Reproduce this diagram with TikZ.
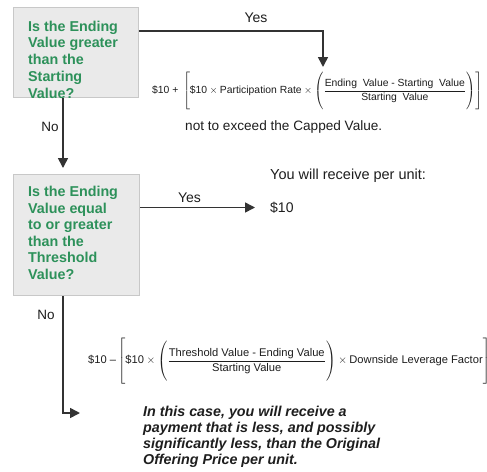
\documentclass[tikz,border=0pt]{standalone}
\usepackage{fontspec}
\setmainfont{Liberation Sans}
\usepackage{graphicx}
\usetikzlibrary{arrows.meta,calc}
\definecolor{qgreen}{RGB}{45,145,90}
\definecolor{boxfill}{RGB}{234,234,234}
\definecolor{boxline}{RGB}{200,200,200}
\definecolor{ink}{RGB}{30,30,30}
\newcommand{\mystrut}[1]{\vrule height #1 depth #1 width 0pt}
\tikzset{
  qbox/.style={draw=boxline,line width=1.2pt,fill=boxfill,inner sep=0pt,anchor=north west},
  qtext/.style={text=qgreen,font={\fontsize{14.3}{16.8}\selectfont\bfseries},align=left,inner sep=0pt,anchor=north west},
  lbl/.style={text=ink,font={\fontsize{14}{16}\selectfont},inner sep=0pt},
  fml/.style={text=ink,font={\fontsize{10}{12}\selectfont},inner sep=0pt,anchor=west},
  arr/.style={draw=black!80,line width=1.6pt,-{Triangle[width=10pt,length=10pt]}},
}
\begin{document}
\begin{tikzpicture}[x=1pt,y=-1pt]
\useasboundingbox (0,0) rectangle (487,471);
\fill[white] (0,0) rectangle (487,471);
\clip (0,0) rectangle (487,471);
% boxes
\node[qbox,minimum width=125pt,minimum height=90pt] (box1) at (13,7) {};
\node[qbox,minimum width=126pt,minimum height=121pt] (box2) at (13,174) {};
\node[qtext] (q1) at (28,20.5) {Is the Ending\\Value greater\\than the\\Starting\\Value?};
\node[qtext,font={\fontsize{14.3}{16.5}\selectfont\bfseries}] (q2) at (28,186.4) {Is the Ending\\Value equal\\to or greater\\than the\\Threshold\\Value?};
% labels
\node[lbl] (yes1) at (256,18) {Yes};
\node[lbl] (yes2) at (189.5,198) {Yes};
\node[lbl,font={\fontsize{13.5}{16}\selectfont}] (no1) at (50,127) {No};
\node[lbl,font={\fontsize{13.5}{16}\selectfont}] (no2) at (46,315) {No};
\node[lbl,anchor=base west,font={\fontsize{14.5}{16}\selectfont}] (recv) at (270,179) {You will receive per unit:};
\node[lbl,anchor=west,font={\fontsize{14}{16}\selectfont}] (d10) at (270,207.5) {\$10};
\node[lbl,anchor=west,font={\fontsize{13.6}{16}\selectfont}] (cap) at (185,126.5) {not to exceed the Capped Value.};
\node[lbl,anchor=north west,align=left,font={\fontsize{14.3}{16}\selectfont\bfseries\itshape}] (note) at (143,406) {In this case, you will receive a\\payment that is less, and possibly\\significantly less, than the Original\\Offering Price per unit.};
% formulas
\node[fml] (f1) at (152,91.5) {\resizebox{330pt}{!}{$\displaystyle \hbox{\$10 +}\ \left[\mystrut{17pt}\hbox{\$10}\times\hbox{Participation Rate}\times\left(\mystrut{15.5pt}\frac{\hbox{Ending\ \ Value - Starting\ \ Value}}{\hbox{Starting\ \ Value}}\right)\right]$}};
\node[fml] (f2) at (88,361) {\resizebox{402pt}{!}{$\displaystyle \hbox{\$10 --}\left[\mystrut{17.5pt}\hbox{\$10}\times\left(\mystrut{17pt}\frac{\hbox{Threshold Value - Ending Value}}{\hbox{Starting Value}}\right)\times\hbox{Downside Leverage Factor}\right]$}};
% connectors
\coordinate (t1) at (323,67);
\coordinate (t3) at (80,413);
\draw[arr] ($(box1.north east)+(0,24)$) -| (t1);
\draw[arr,shorten >=6pt] ($(box1.south west)+(50,0)$) -- ($(box2.north west)+(50,0)$);
\draw[arr,shorten >=15pt] (box2.east |- d10.west) -- (d10.west);
\draw[arr] ($(box2.south west)+(50,0)$) |- (t3);
\end{tikzpicture}
\end{document}
